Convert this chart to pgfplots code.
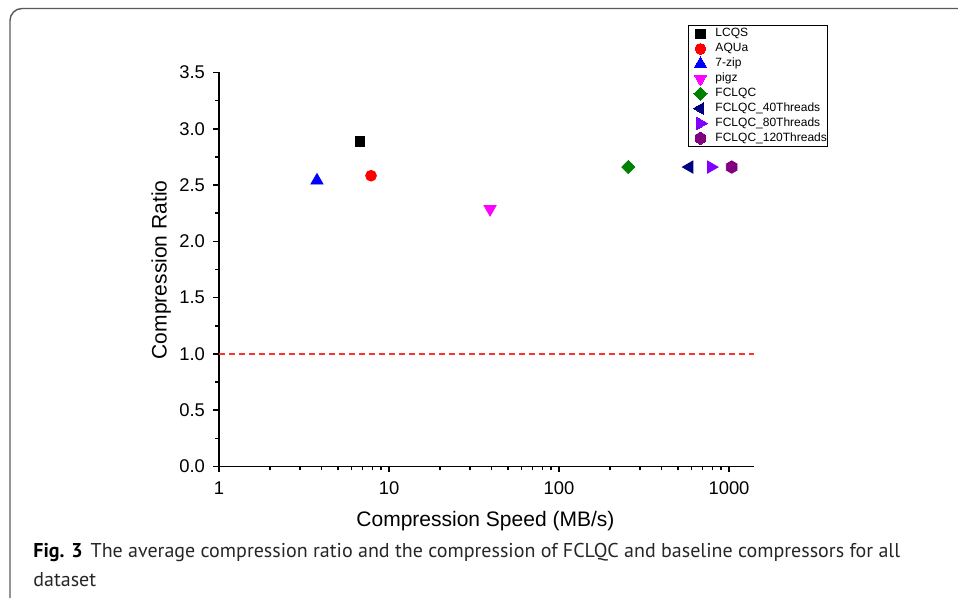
\documentclass[border=0pt]{standalone}
\usepackage{pgfplots}
\pgfplotsset{compat=1.18}
\usepackage{fontspec}
\setmainfont{Liberation Sans}
\newfontfamily\capfont{PT Sans}
\usetikzlibrary{plotmarks}

\definecolor{cBlack}{HTML}{000000}
\definecolor{cRed}{HTML}{FF0000}
\definecolor{cBlue}{HTML}{0000FF}
\definecolor{cMagenta}{HTML}{FF00FF}
\definecolor{cNavy}{HTML}{000080}
\definecolor{cViolet}{HTML}{8000FF}
\definecolor{cPurple}{HTML}{800080}
\definecolor{cGreen}{HTML}{008000}
\definecolor{cDash}{HTML}{FF3030}
\definecolor{cFrame}{HTML}{5A5A5A}

% pointy-top hexagon, filled
\pgfdeclareplotmark{hexagon*}{%
  \pgfpathmoveto{\pgfqpointpolar{90}{\pgfplotmarksize}}%
  \pgfpathlineto{\pgfqpointpolar{150}{\pgfplotmarksize}}%
  \pgfpathlineto{\pgfqpointpolar{210}{\pgfplotmarksize}}%
  \pgfpathlineto{\pgfqpointpolar{270}{\pgfplotmarksize}}%
  \pgfpathlineto{\pgfqpointpolar{330}{\pgfplotmarksize}}%
  \pgfpathlineto{\pgfqpointpolar{30}{\pgfplotmarksize}}%
  \pgfpathclose
  \pgfusepathqfillstroke}

\begin{document}
\begin{tikzpicture}
\useasboundingbox (0,0) rectangle (479pt,299pt);
\draw[cFrame, line width=0.7pt, rounded corners=6pt] (5pt,-20pt) -- (5pt,294.75pt) -- (500pt,294.75pt);
\begin{axis}[
    at={(109.5pt,65.75pt)}, anchor=south west,
    scale only axis,
    width=267.5pt, height=197pt,
    xmode=log,
    xmin=1, xmax=1403,
    ymin=0, ymax=3.5,
    axis lines=left,
    axis line style={-, line width=0.75pt},
    every tick/.style={black, line width=0.75pt},
    tick align=outside,
    major tick length=3pt,
    minor tick length=1.8pt,
    xtick={1,10,100,1000},
    xticklabels={1,10,100,1000},
    ytick={0,0.5,...,3.5},
    minor y tick num=1,
    yticklabel={\pgfmathprintnumber[fixed,fixed zerofill,precision=1]{\tick}},
    /pgf/number format/assume math mode=true,
    ticklabel style={font=\fontsize{9.2}{11}\selectfont},
    xticklabel style={yshift=-1pt},
    yticklabel style={xshift=-0.5pt},
    xlabel={Compression Speed (MB/s)},
    ylabel={Compression Ratio},
    label style={font=\fontsize{10.5}{12}\selectfont},
    xlabel style={at={(axis description cs:0.498,-0.138)}, anchor=center},
    ylabel style={at={(axis description cs:-0.108,0.499)}, anchor=center, rotate=0},
    clip=false,
    legend cell align=left,
    legend style={at={(axis description cs:0.8766,1.1206)}, anchor=north west,
        draw=black, line width=0.5pt, inner sep=0.5pt,
        font=\fontsize{6}{7}\selectfont,
        nodes={inner sep=0pt, text height=4.4pt, text depth=1.4pt},
        column sep=0pt, row sep=0pt},
    legend image code/.code={%
        \path[draw=none, fill=none] (-5.5pt,-3.725pt) rectangle (7.5pt,3.725pt);
        \draw[#1, line width=0pt] plot coordinates {(0pt,0pt)};},
]
\addplot[only marks, mark=square*, mark size=2.4pt, color=cBlack]
    coordinates {(6.75,2.888)};
\addplot[only marks, mark=*, mark size=2.7pt, color=cRed]
    coordinates {(7.84,2.583)};
\addplot[only marks, mark=triangle*, mark size=3.5pt, color=cBlue]
    coordinates {(3.77,2.54)};
\addplot[only marks, mark=triangle*, mark size=3.5pt, color=cMagenta, mark options={rotate=180}]
    coordinates {(39.3,2.287)};
\addplot[only marks, mark=square*, mark size=2.3pt, color=cGreen, mark options={rotate=45}]
    coordinates {(255.7,2.66)};
\addplot[only marks, mark=triangle*, mark size=3.5pt, color=cNavy, mark options={rotate=90}]
    coordinates {(585,2.66)};
\addplot[only marks, mark=triangle*, mark size=3.5pt, color=cViolet, mark options={rotate=-90}]
    coordinates {(784,2.66)};
\addplot[only marks, mark=hexagon*, mark size=3.1pt, color=cPurple]
    coordinates {(1037,2.66)};
\legend{LCQS, AQUa, 7-zip, pigz, FCLQC, FCLQC\_40Threads, FCLQC\_80Threads, FCLQC\_120Threads}
% reference line at ratio 1
\addplot[color=cDash, no markers, line width=0.6pt, dash pattern=on 3pt off 2pt]
    coordinates {(1,1) (1403,1)};
\end{axis}
\node[anchor=base west, inner sep=0pt, font=\capfont\fontsize{10}{12}\selectfont]
    at (16.5pt,20pt) {\textbf{Fig. 3}\hspace{4pt}{\color{black!85}The average compression ratio and the compression of FCLQC and baseline compressors for all}};
\node[anchor=base west, inner sep=0pt, font=\capfont\fontsize{10}{12}\selectfont, text=black!85]
    at (16.5pt,5.5pt) {dataset};
\end{tikzpicture}
\end{document}
